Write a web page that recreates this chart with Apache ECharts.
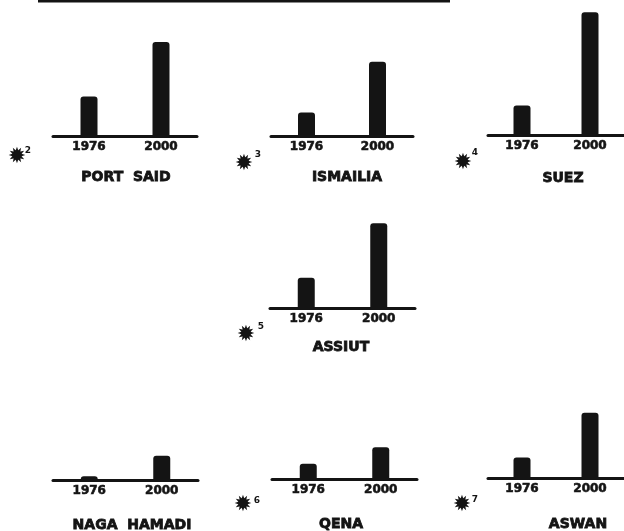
<!DOCTYPE html>
<html>
<head>
<meta charset="utf-8">
<script src="https://cdn.jsdelivr.net/npm/echarts@6/dist/echarts.min.js"></script>
<style>
html, body { margin: 0; background: #fff; }
#chart { width: 624px; height: 531px; }
</style>
</head>
<body>
<div id="chart"></div>
<script>
// population, thousands
var years = ['1976', '2000'];
var cities = ['PORT  SAID', 'ISMAILIA', 'SUEZ', 'ASSIUT', 'NAGA  HAMADI', 'QENA', 'ASWAN'];
var pop1976 = [260, 155, 195, 200, 25, 100, 135];
var pop2000 = [620, 490, 810, 560, 160, 210, 430];
var notes = ['2', '3', '4', '5', '', '6', '7'];

// where each little panel sits
var panels = [
  {left: 53,  width: 144, bottom: 136, nx: 126, ny: 177, sx: 17,  sy: 157, px: 28,  py: 151},
  {left: 271, width: 142, bottom: 136, nx: 347, ny: 177, sx: 244, sy: 164, px: 258, py: 155},
  {left: 488, width: 145, bottom: 135, nx: 563, ny: 178, sx: 463, sy: 163, px: 475, py: 153},
  {left: 270, width: 145, bottom: 308, nx: 341, ny: 347, sx: 246, sy: 335, px: 261, py: 327},
  {left: 53,  width: 145, bottom: 480, nx: 132, ny: 525},
  {left: 272, width: 145, bottom: 479, nx: 341, ny: 524, sx: 243, sy: 505, px: 257, py: 501},
  {left: 488, width: 145, bottom: 478, nx: 578, ny: 524, sx: 462, sy: 505, px: 475, py: 500}
];

var H = 125, yMax = 825;
var ink = '#141414';
var font = 'DejaVu Sans';

var grids = [], xAxes = [], yAxes = [], series = [], graphics = [];

cities.forEach(function (name, i) {
  var p = panels[i];
  grids.push({left: p.left, width: p.width, top: p.bottom - H, height: H});
  xAxes.push({
    type: 'category', gridIndex: i, data: years,
    axisLine: {lineStyle: {color: ink, width: 3}},
    axisTick: {show: false},
    axisLabel: {color: ink, fontFamily: font, fontWeight: 'bold', fontSize: 12, margin: 5,
                textBorderColor: ink, textBorderWidth: 0.6}
  });
  yAxes.push({type: 'value', gridIndex: i, min: 0, max: yMax, show: false});
  series.push({
    type: 'bar', xAxisIndex: i, yAxisIndex: i,
    data: [pop1976[i], pop2000[i]],
    barWidth: 17,
    itemStyle: {color: ink, borderRadius: [3, 3, 0, 0]}
  });
  graphics.push({
    type: 'text', x: p.nx, y: p.ny,
    style: {text: name, fill: ink, fontFamily: font, fontWeight: 'bold', fontSize: 14,
            stroke: ink, lineWidth: 0.8,
            align: 'center', verticalAlign: 'middle'}
  });
  if (notes[i]) {
    graphics.push({
      type: 'text', x: p.sx, y: p.sy,
      style: {text: '\u2739', fill: ink, fontFamily: font, fontSize: 22,
              align: 'center', verticalAlign: 'middle'}
    });
    graphics.push({
      type: 'text', x: p.px, y: p.py,
      style: {text: notes[i], fill: ink, fontFamily: font, fontWeight: 'bold', fontSize: 9,
              align: 'center', verticalAlign: 'middle'}
    });
  }
});

// heavy rule across the top
graphics.push({
  type: 'line', shape: {x1: 38, y1: 1, x2: 450, y2: 1},
  style: {stroke: ink, lineWidth: 3}
});

var chart = echarts.init(document.getElementById('chart'));
chart.setOption({
  backgroundColor: '#fff',
  animation: false,
  grid: grids,
  xAxis: xAxes,
  yAxis: yAxes,
  series: series,
  graphic: graphics
});
</script>
</body>
</html>
